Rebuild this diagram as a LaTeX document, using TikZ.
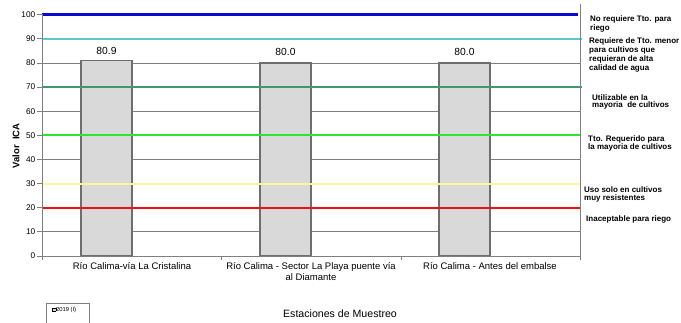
\documentclass[tikz,border=0pt]{standalone}
\usepackage{fontspec}
\setmainfont{Liberation Sans}
\definecolor{gridc}{HTML}{7F7F7F}
\definecolor{barfill}{HTML}{D9D9D9}
\definecolor{barline}{HTML}{6E6E6E}
\definecolor{lblue}{HTML}{0A0ACC}
\definecolor{lcyan}{HTML}{5CC8C8}
\definecolor{ldgreen}{HTML}{3C9A6E}
\definecolor{lgreen}{HTML}{2EE62E}
\definecolor{lyellow}{HTML}{F8F89A}
\definecolor{lred}{HTML}{F01010}
\begin{document}
\begin{tikzpicture}[x=1pt,y=-1pt,
  ticklbl/.style={font=\fontsize{8.3}{9}\selectfont, anchor=east, inner sep=0pt},
  barbox/.style={fill=barfill, draw=barline, line width=1.2pt},
  vallbl/.style={font=\fontsize{10.3}{11}\selectfont, inner sep=0pt},
  catlbl/.style={font=\fontsize{9.5}{11}\selectfont, inner sep=0pt, align=center, anchor=north},
  rlbl/.style={font=\bfseries\fontsize{8}{9}\selectfont, inner sep=0pt, align=left, anchor=north west},
  rlbltight/.style={font=\bfseries\fontsize{8}{7.2}\selectfont, inner sep=0pt, align=left, anchor=north west},
  refline/.style={line width=2pt}
]
\useasboundingbox[fill=white] (0,0) rectangle (681,323);
% gridlines
\foreach \v in {10,20,...,90}
  \draw[gridc, line width=0.8pt] (42,{256-2.413*\v}) -- (580,{256-2.413*\v});
% y ticks and labels
\foreach \v in {0,10,...,100} {
  \draw[gridc, line width=0.8pt] (37,{256-2.413*\v}) -- (42,{256-2.413*\v});
  \node[ticklbl] (t\v) at (35.5,{256-2.413*\v}) {\v};
}
% bars
\draw[barbox] (81,256) rectangle (132,{256-2.413*80.9});
\draw[barbox] (260,256) rectangle (311,{256-2.413*80.0});
\draw[barbox] (439,256) rectangle (490,{256-2.413*80.0});
\node[vallbl] (v1) at (106.5,51) {80.9};
\node[vallbl] (v2) at (285.5,52) {80.0};
\node[vallbl] (v3) at (464.5,52) {80.0};
% reference lines
\draw[refline, lred]    (42,{256-2.413*20}) -- (580,{256-2.413*20});
\draw[refline, lyellow] (42,{256-2.413*30}) -- (580,{256-2.413*30});
\draw[refline, lgreen]  (42,{256-2.413*50}) -- (581,{256-2.413*50});
\draw[refline, ldgreen] (42,{256-2.413*70}) -- (582,{256-2.413*70});
\draw[refline, lcyan]   (42,{256-2.413*90}) -- (582,{256-2.413*90});
\draw[line width=2.5pt, lblue] (42,{256-2.413*100}) -- (578,{256-2.413*100});
% axes and frame
\draw[gridc, line width=0.8pt] (42,14) -- (42,256) -- (580,256);
\draw[gridc, line width=0.8pt] (580,4) -- (580,258);
\foreach \x in {42,221,401,580}
  \draw[gridc, line width=0.8pt] (\x,256) -- (\x,260);
% category labels
\node[catlbl] (c1) at (132,262.5) {Río Calima-vía La Cristalina};
\node[catlbl] (c2) at (311,262.5) {Río Calima - Sector La Playa puente vía\\al Diamante};
\node[catlbl] (c3) at (490,262.5) {Río Calima - Antes del embalse};
% axis titles
\node[font=\bfseries\fontsize{9.5}{10}\selectfont, rotate=90, inner sep=0pt] (ytitle) at (16,146) {Valor\ \ ICA};
\node[font=\fontsize{10.6}{12}\selectfont, inner sep=0pt] (xtitle) at (340,314) {Estaciones de Muestreo};
% legend
\draw[gridc, line width=0.6pt] (46,303) rectangle (89,325);
\node[font=\fontsize{5.8}{6}\selectfont, inner sep=0pt, anchor=west] (leg) at (52,310) {\raisebox{0.1ex}{\fboxsep=0pt\fboxrule=0.4pt\fcolorbox{black}{barfill}{\rule{0pt}{0.55em}\hspace{0.55em}}}2019 (I)};
% right labels
\node[rlbl] (r1) at (590,16) {No requiere Tto. para\\riego};
\node[rlbl] (r2) at (589,38) {Requiere de Tto. menor\\para cultivos que\\requieran de alta\\calidad de agua};
\node[rlbltight] (r3) at (592,94.5) {Utilizable en la\\mayoria\ \ de cultivos};
\node[rlbltight] (r4) at (588,135.5) {Tto. Requerido para\\la mayoria de cultivos};
\node[rlbltight] (r5) at (584,187) {Uso solo en cultivos\\muy resistentes};
\node[rlbl] (r6) at (586,216) {Inaceptable para riego};
\end{tikzpicture}
\end{document}
